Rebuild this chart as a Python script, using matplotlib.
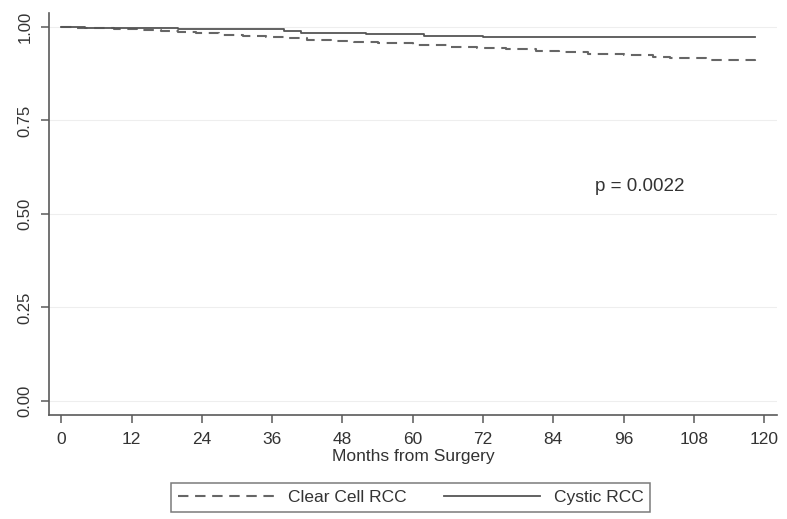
import matplotlib
matplotlib.use("Agg")
import matplotlib.pyplot as plt

plt.rcParams["font.family"] = ["Liberation Sans", "DejaVu Sans"]

# Kaplan-Meier step estimates
clear_months = [0, 2, 5, 9, 13, 17, 20, 23, 27, 31, 35, 38, 42, 46, 50, 54,
                60, 66, 71, 76, 81, 85, 90, 96, 101, 104, 110, 118.5]
clear_surv = [1.000, 0.998, 0.996, 0.994, 0.991, 0.989, 0.986, 0.983, 0.979,
              0.976, 0.973, 0.970, 0.966, 0.962, 0.959, 0.956, 0.952, 0.947,
              0.943, 0.940, 0.936, 0.932, 0.928, 0.924, 0.920, 0.916, 0.913,
              0.910]

cystic_months = [0, 4, 20, 38, 41, 52, 62, 72, 118.5]
cystic_surv = [1.000, 0.996, 0.994, 0.989, 0.984, 0.981, 0.977, 0.972, 0.972]

x_ticks = list(range(0, 121, 12))
y_ticks = [0.00, 0.25, 0.50, 0.75, 1.00]
y_tick_labels = ["0.00", "0.25", "0.50", "0.75", "1.00"]
p_text = "p = 0.0022"

fig = plt.figure(figsize=(7.87, 5.19), dpi=100)
ax = fig.add_axes([0.0623, 0.2004, 0.925, 0.7746])

axis_grey = "#5a5a5a"
text_grey = "#333333"

ax.step(clear_months, clear_surv, where="post", color="#666666",
        linewidth=1.5, dashes=(5, 3.2), label="Clear Cell RCC")
ax.step(cystic_months, cystic_surv, where="post", color="#555555",
        linewidth=1.3, label="Cystic RCC")

ax.set_xlim(-2.1, 122.2)
ax.set_ylim(-0.0375, 1.0375)
ax.set_xticks(x_ticks)
ax.set_yticks(y_ticks)
ax.set_yticklabels(y_tick_labels, rotation=90, va="center")

for y in y_ticks:
    ax.axhline(y, color="#eeeeee", linewidth=0.8, zorder=0)

for side in ["top", "right"]:
    ax.spines[side].set_visible(False)
for side in ["left", "bottom"]:
    ax.spines[side].set_color(axis_grey)
    ax.spines[side].set_linewidth(1.2)

ax.tick_params(axis="both", colors=axis_grey, length=6, width=1.1,
               labelcolor=text_grey)
ax.tick_params(axis="x", pad=6, labelsize=12.5)
ax.tick_params(axis="y", pad=6, labelsize=12)

ax.set_xlabel("Months from Surgery", fontsize=12.5, color=text_grey,
              labelpad=2)
ax.text(98.7, 0.574, p_text, fontsize=13.5, color=text_grey,
        ha="center", va="center")

handles, labels = ax.get_legend_handles_labels()
leg = fig.legend(handles, labels, loc="center", ncol=2,
                 bbox_to_anchor=(0.522, 0.0414), fontsize=12.5,
                 frameon=True, fancybox=False, handlelength=5.5,
                 handletextpad=0.8, columnspacing=2.2, borderpad=0.4)
leg.get_frame().set_edgecolor(axis_grey)
leg.get_frame().set_linewidth(1.1)
for t in leg.get_texts():
    t.set_color(text_grey)

fig.savefig("out.png", dpi=100)
